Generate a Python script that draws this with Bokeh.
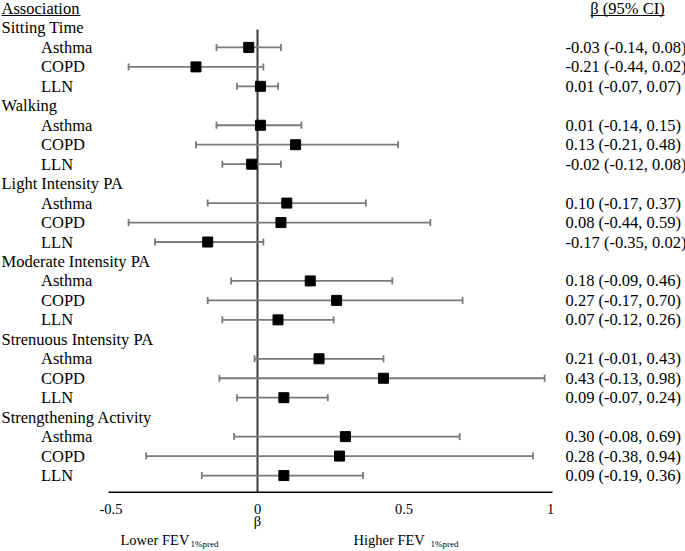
from bokeh.plotting import figure
from bokeh.models import Range1d, ColumnDataSource
from bokeh.core.properties import value
from bokeh.embed import file_html
from bokeh.resources import INLINE

# ---- data ----
groups = ["Sitting Time", "Walking", "Light Intensity PA",
          "Moderate Intensity PA", "Strenuous Intensity PA", "Strengthening Activity"]
subgroups = ["Asthma", "COPD", "LLN"]
estimates = [-0.03, -0.21, 0.01,
             0.01, 0.13, -0.02,
             0.10, 0.08, -0.17,
             0.18, 0.27, 0.07,
             0.21, 0.43, 0.09,
             0.30, 0.28, 0.09]
lower = [-0.14, -0.44, -0.07,
         -0.14, -0.21, -0.12,
         -0.17, -0.44, -0.35,
         -0.09, -0.17, -0.12,
         -0.01, -0.13, -0.07,
         -0.08, -0.38, -0.19]
upper = [0.08, 0.02, 0.07,
         0.15, 0.48, 0.08,
         0.37, 0.59, 0.02,
         0.46, 0.70, 0.26,
         0.43, 0.98, 0.24,
         0.69, 0.94, 0.36]
tick_values = [-0.5, 0, 0.5, 1]
tick_labels = ["-0.5", "0", "0.5", "1"]

# ---- layout helpers (page pixel -> data units) ----
W, H = 685, 551
PX_PER_UNIT = 293.0
X_ZERO_PX = 257.0
ROW_PX = 19.46
ROW0_PX = 8.0
def hx(px):
    return (px - X_ZERO_PX) / PX_PER_UNIT
def vy(px):
    return (px - ROW0_PX) / ROW_PX

FONT = value("Liberation Serif")
F_MAIN = "16.5px"
F_TICK = "14.5px"
F_SUB = "9px"

# ---- rows ----
grp_rows, grp_names = [], []
sub_rows, sub_names = [], []
for g, name in enumerate(groups):
    grp_rows.append(1 + 4 * g)
    grp_names.append(name)
    for s, sname in enumerate(subgroups):
        sub_rows.append(2 + 4 * g + s)
        sub_names.append(sname)

cap = 3.5 / ROW_PX
src = ColumnDataSource(dict(
    row=sub_rows, est=estimates, lo=lower, hi=upper,
    cap_top=[r - cap for r in sub_rows], cap_bot=[r + cap for r in sub_rows],
    label=sub_names,
    ci=[f"{e:.2f} ({l:.2f}, {u:.2f})" for e, l, u in zip(estimates, lower, upper)],
))

p = figure(width=W, height=H,
           x_range=Range1d(hx(0), hx(W)),
           y_range=Range1d(vy(H), vy(0)),
           output_backend="svg", toolbar_location=None,
           x_axis_type=None, y_axis_type=None, min_border=0)
p.grid.visible = False
p.outline_line_color = None
p.background_fill_color = "white"

axis_row = vy(491.7)

# zero reference line
p.segment(x0=[0], y0=[vy(29)], x1=[0], y1=[axis_row], line_color="#3a3a3a", line_width=2)
# axis line
p.segment(x0=[hx(108)], y0=[axis_row], x1=[hx(552)], y1=[axis_row], line_color="#000000", line_width=1.6)

# whiskers and caps
ERR = "#7a7a7a"
p.segment(x0="lo", y0="row", x1="hi", y1="row", source=src, line_color=ERR, line_width=1.8)
p.segment(x0="lo", y0="cap_top", x1="lo", y1="cap_bot", source=src, line_color=ERR, line_width=1.8)
p.segment(x0="hi", y0="cap_top", x1="hi", y1="cap_bot", source=src, line_color=ERR, line_width=1.8)
# point estimates
p.scatter(x="est", y="row", source=src, marker="square", size=10,
          fill_color="black", line_color="black")

common = dict(text_font=FONT, text_baseline="middle", text_color="black")

# headers
p.text(x=[hx(1)], y=[vy(7.7)], text=["Association"], text_font_size=F_MAIN, **common)
p.text(x=[hx(627)], y=[vy(7.7)], text=["β (95% CI)"], text_font_size=F_MAIN,
       text_align="center", **common)
ul = vy(15)
p.segment(x0=[hx(1), hx(590)], y0=[ul, ul], x1=[hx(80), hx(664)], y1=[ul, ul],
          line_color="black", line_width=1)

# group labels
p.text(x=[hx(1)] * len(grp_rows), y=grp_rows, text=grp_names, text_font_size=F_MAIN, **common)
# subgroup labels
p.text(x=hx(40.5), y="row", text="label", source=src, text_font_size=F_MAIN, **common)
# CI texts
p.text(x=hx(565), y="row", text="ci", source=src, text_font_size=F_MAIN, **common)

# tick labels
p.text(x=tick_values, y=[vy(508)] * len(tick_values), text=tick_labels,
       text_font_size=F_TICK, text_align="center", **common)
# beta label
p.text(x=[0], y=[vy(520)], text=["β"], text_font_size=F_TICK, text_align="center", **common)
# direction labels
p.text(x=[hx(120), hx(353)], y=[vy(539.5)] * 2, text=["Lower FEV", "Higher FEV"],
       text_font_size=F_TICK, **common)
p.text(x=[hx(190), hx(430)], y=[vy(543)] * 2, text=["1%pred", "1%pred"],
       text_font_size=F_SUB, **common)

open("out.html", "w").write(file_html(p, INLINE))
